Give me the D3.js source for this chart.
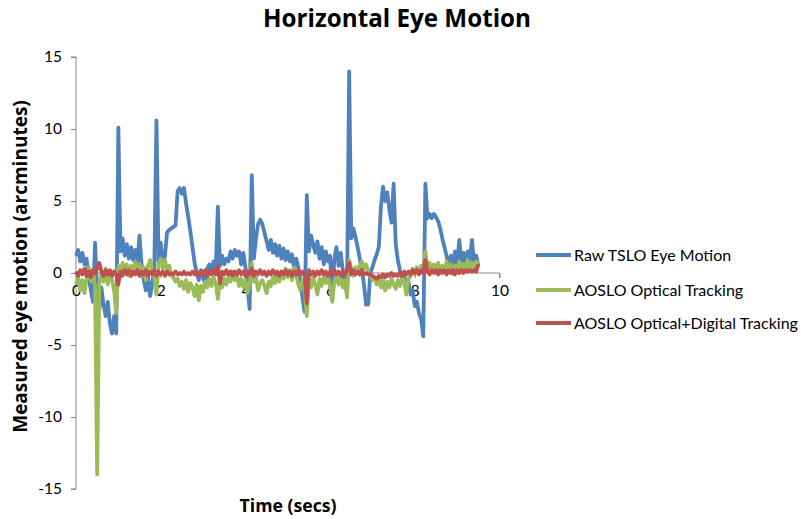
<!DOCTYPE html>
<html><head><meta charset="utf-8">
<script src="https://cdn.jsdelivr.net/npm/d3@7"></script>
<style>
body{margin:0;background:#fff;}
svg{display:block;font-family:Lato,"Open Sans",sans-serif;}
</style></head>
<body><svg id="chart" width="801" height="519"></svg>
<script>
// ---- data ----
const sampleStart = 0;      // seconds
const sampleStep = 0.05;    // seconds between samples
const xTicks = [0, 2, 4, 6, 8, 10];
const yTicks = [15, 10, 5, 0, -5, -10, -15];
const seriesNames = ["Raw TSLO Eye Motion", "AOSLO Optical Tracking", "AOSLO Optical+Digital Tracking"];
const seriesColors = ["#4F81BD", "#9BBB59", "#C0504D"];

const rawTSLO = [
 1.2,1.6,0.8,1.4,0.6,1.0,-0.3,-1.2,-2.0,2.1,-1.5,-2.6,-1.0,-2.2,-3.0,-2.0,-3.5,-4.2,-3.0,-4.2,
 10.1,1.5,2.4,1.2,2.0,1.0,1.8,0.9,1.6,0.8,2.6,0.5,-0.5,-1.2,-0.3,-1.6,-0.8,0.5,10.6,0.8,
 2.1,0.6,1.2,2.8,3.0,3.1,3.2,3.3,5.7,5.9,5.5,5.9,4.8,3.9,2.9,1.8,0.7,0.0,-0.5,0.2,
 -0.3,-0.8,0.3,0.6,0.2,0.8,0.3,4.6,0.5,1.2,0.6,1.0,0.8,1.5,1.0,1.6,1.2,1.5,0.6,1.4,
 0.4,-1.0,-2.5,6.8,1.0,2.4,3.4,3.7,3.4,2.8,2.2,1.6,2.3,1.4,2.0,1.2,1.9,1.0,1.7,0.9,
 1.5,0.8,1.3,0.3,1.0,0.4,-0.6,-1.8,-2.7,5.4,1.5,2.6,2.0,1.4,2.2,1.0,1.8,0.6,1.5,0.8,
 1.2,-1.9,1.0,1.8,0.5,1.4,0.2,-1.0,-1.2,14.0,2.4,3.1,2.5,1.8,1.0,0.2,-0.8,-2.2,-2.2,0.0,
 0.4,0.9,1.3,1.8,4.6,6.0,5.0,5.6,4.4,3.5,6.2,2.0,0.9,0.2,-0.4,-0.2,-1.0,-0.6,-1.5,-1.2,
 -2.3,-2.0,-2.8,-3.2,-4.4,6.2,3.8,4.1,3.8,4.1,3.9,3.6,3.1,2.4,1.8,1.2,0.5,1.2,0.6,1.5,
 0.6,2.3,0.8,1.4,0.6,1.5,0.9,2.3,0.6,1.2,0.5
];
const aosloOptical = [
 -0.8,-0.3,-1.2,-0.5,-1.4,-0.4,0.4,-0.6,0.2,-1.0,-14.0,-0.8,0.0,-0.6,0.3,-0.8,0.1,-0.5,-1.2,-2.8,
 0.5,0.2,0.7,0.0,0.6,-0.2,0.5,0.1,0.8,0.3,0.6,-0.2,0.4,-0.5,0.5,0.9,0.3,-0.3,-1.5,0.6,
 1.0,0.3,0.9,0.2,0.5,-0.2,-0.3,-0.6,-0.4,-0.9,-0.6,-1.1,-0.5,-1.3,-0.7,-1.0,-1.6,-0.8,-1.9,-0.9,
 -1.3,-0.6,-1.0,-0.4,-0.9,-0.3,-0.7,-1.8,-0.5,-1.0,-0.4,-0.8,-0.2,-0.6,0.1,-0.5,-0.2,-0.9,-0.4,-1.0,
 -0.5,-1.4,-0.8,0.7,-0.6,-0.3,-1.2,-0.7,-0.5,-0.9,-1.4,-0.6,-0.9,-0.3,-0.7,-0.2,-0.6,0.1,-0.4,0.3,
 -0.3,0.2,-0.5,0.4,-0.2,-0.8,-1.2,-0.5,-1.0,-3.0,-0.4,-1.0,-0.3,-0.8,-1.5,-0.4,-0.9,-0.2,-0.7,-0.3,
 -1.0,-2.0,-0.6,-0.2,-0.8,-0.4,-1.0,-0.5,-1.7,0.9,0.3,-0.2,0.4,0.0,0.5,0.8,0.3,0.6,0.1,-0.2,
 -0.5,-0.3,-0.8,-0.4,-1.0,-0.5,-1.2,-0.6,-1.0,-0.4,-0.8,-1.1,-0.5,-0.9,-0.3,-0.6,-1.5,-0.4,-0.2,0.3,
 -0.1,0.4,0.0,0.5,0.1,1.5,0.3,0.7,0.1,0.6,0.2,0.7,0.0,0.5,0.2,0.8,0.1,0.6,-0.1,0.5,
 0.2,0.8,0.1,0.6,0.3,0.9,0.2,0.7,0.4,0.8,0.6
];
const aosloDigital = [
 0.1,-0.2,0.2,-0.1,0.3,-0.2,0.1,-0.3,0.2,0.0,0.3,0.7,0.1,-0.2,0.2,-0.1,0.2,-0.2,0.1,-0.1,
 -0.8,0.1,-0.2,0.2,-0.1,0.2,-0.2,0.1,-0.1,0.2,-0.2,0.1,-0.1,0.2,-0.2,0.1,-0.1,0.2,-0.2,0.1,
 -0.1,0.1,-0.2,0.1,-0.1,0.0,-0.1,0.1,-0.1,0.0,-0.1,0.1,-0.1,0.0,-0.1,0.1,-0.1,0.1,-0.2,0.1,
 -0.1,0.2,-0.2,0.1,-0.1,0.2,-0.1,0.5,-0.7,0.1,-0.1,0.2,-0.1,0.1,-0.2,0.1,-0.1,0.2,-0.1,0.1,
 -0.2,0.1,-0.1,0.3,-0.2,0.1,-0.1,0.2,-0.1,0.1,-0.2,0.1,-0.1,0.2,-0.1,0.1,-0.2,0.1,-0.1,0.2,
 -0.1,0.1,-0.2,0.1,-0.1,0.2,-0.1,0.1,-0.2,-2.1,0.2,-0.1,0.1,-0.2,0.1,-0.1,0.2,-0.1,0.1,-0.2,
 0.1,-0.1,0.2,-0.1,0.1,-0.2,0.1,-0.1,0.2,0.7,-0.1,0.2,-0.1,0.1,-0.1,0.2,-0.1,0.0,-0.1,-0.1,
 -0.2,-0.3,-0.4,-0.2,-0.3,-0.1,-0.3,-0.1,-0.2,0.0,-0.2,-0.1,-0.2,0.0,-0.2,0.1,-0.1,0.1,-0.1,0.2,
 0.0,0.2,-0.1,0.2,0.0,0.9,0.1,-0.1,0.2,0.0,0.2,-0.1,0.2,0.0,0.2,-0.1,0.2,0.0,0.2,-0.1,
 0.2,0.0,0.2,0.0,0.2,0.1,0.2,0.1,0.2,0.1,0.6
];
const allSeries = [rawTSLO, aosloOptical, aosloDigital];

// ---- chart ----
const svg = d3.select("#chart");
const x = d3.scaleLinear().domain([0, 10]).range([76, 499.5]);
const y = d3.scaleLinear().domain([-15, 15]).range([489, 57]);
const axisColor = "#868686";
const fmt = d => String(d);

// y axis
const yAxis = svg.append("g").attr("transform", `translate(${x(0)},0)`)
  .call(d3.axisLeft(y).tickValues(yTicks).tickSize(5).tickPadding(9).tickFormat(fmt));
// x axis at y=0
const xAxis = svg.append("g").attr("transform", `translate(0,${y(0)})`)
  .call(d3.axisBottom(x).tickValues(xTicks).tickSize(5).tickPadding(7).tickFormat(fmt));
[yAxis, xAxis].forEach(g => {
  g.select(".domain").attr("stroke", axisColor).attr("stroke-width", 1);
  g.selectAll(".tick line").attr("stroke", axisColor);
  g.selectAll(".tick text").attr("fill", "#000").attr("font-size", 15.5)
    .attr("font-family", "Lato,'Open Sans',sans-serif");
});
yAxis.select(".domain").attr("d", `M-5,${y(15)}H0V${y(-15)}H-5`);
xAxis.select(".domain").attr("d", `M${x(0)},0H${x(10)}V5`);

const line = d3.line()
  .x((d, i) => x(sampleStart + i * sampleStep))
  .y(d => y(d));

allSeries.forEach((s, k) => {
  svg.append("path").datum(s)
    .attr("fill", "none")
    .attr("stroke", seriesColors[k])
    .attr("stroke-width", 3.8)
    .attr("stroke-linejoin", "round")
    .attr("d", line);
});

// fit a text element's font size to a target width
function fit(sel, target) {
  const w = sel.node().getComputedTextLength();
  const fs = parseFloat(sel.attr("font-size"));
  sel.attr("font-size", fs * target / w);
}

// title
const title = svg.append("text").attr("x", 397).attr("y", 27).attr("text-anchor", "middle")
  .attr("font-family", "'Open Sans',sans-serif")
  .attr("font-size", 20).attr("font-weight", "bold").text("Horizontal Eye Motion");
fit(title, 268);
// axis titles
const xt = svg.append("text").attr("x", 288).attr("y", 512).attr("text-anchor", "middle")
  .attr("font-family", "'Open Sans',sans-serif")
  .attr("font-size", 16).attr("font-weight", "bold").text("Time (secs)");
fit(xt, 97);
const yt = svg.append("text").attr("transform", "translate(27,266.5) rotate(-90)").attr("text-anchor", "middle")
  .attr("font-family", "'Open Sans',sans-serif")
  .attr("font-size", 16).attr("font-weight", "bold").text("Measured eye motion (arcminutes)");
fit(yt, 333);

// legend
const legendY = [255, 290, 323];
seriesNames.forEach((n, k) => {
  svg.append("line").attr("x1", 536).attr("x2", 571).attr("y1", legendY[k]).attr("y2", legendY[k])
    .attr("stroke", seriesColors[k]).attr("stroke-width", 3.8);
  svg.append("text").attr("x", 574).attr("y", legendY[k] + 5.5).attr("font-size", 16)
    .attr("fill", "#000").text(n);
});
</script></body></html>
